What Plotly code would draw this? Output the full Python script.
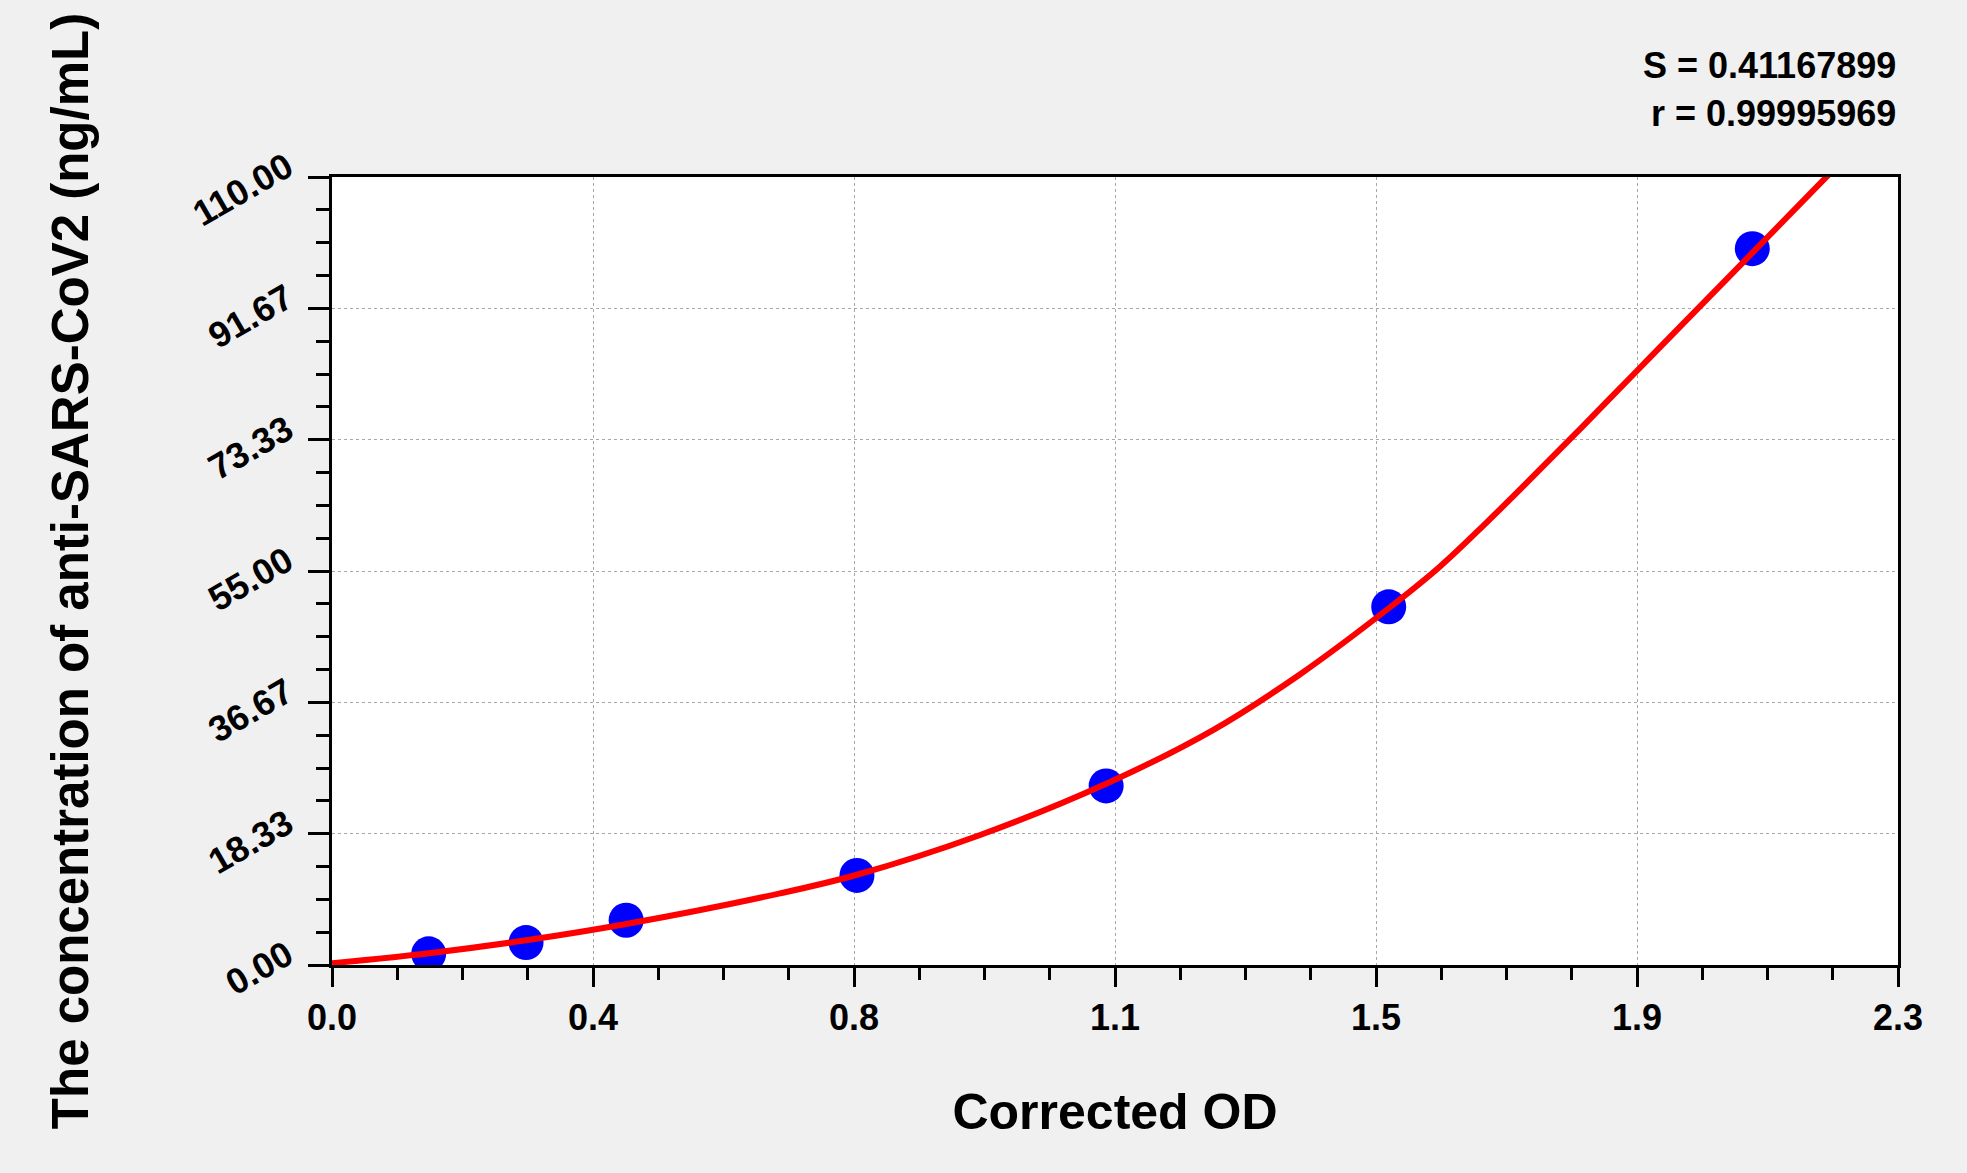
import plotly.graph_objects as go

# standard points (Corrected OD vs concentration)
od_values = [0.142, 0.285, 0.432, 0.771, 1.137, 1.552, 2.086]
conc_values = [1.5625, 3.125, 6.25, 12.5, 25.0, 50.0, 100.0]

# fitted curve
curve_od = [0.0, 0.1425, 0.285, 0.432, 0.658, 0.771, 0.952, 1.137, 1.294,
            1.422, 1.552, 1.627, 1.696, 1.764, 1.837, 1.911, 1.984, 2.086, 2.203]
curve_conc = [0.25, 1.65, 3.45, 5.72, 10.0, 12.6, 18.15, 25.3, 32.8,
              40.6, 49.8, 55.6, 61.8, 68.2, 75.2, 82.4, 89.5, 99.4, 110.8]

x_tickvals = [0.0, 0.38333, 0.76667, 1.15, 1.53333, 1.91667, 2.3]
x_ticktext = ['0.0', '0.4', '0.8', '1.1', '1.5', '1.9', '2.3']
y_tickvals = [0.0, 18.333, 36.667, 55.0, 73.333, 91.667, 110.0]
y_ticktext = ['0.00', '18.33', '36.67', '55.00', '73.33', '91.67', '110.00']

fit_s = 'S = 0.41167899'
fit_r = 'r = 0.99995969'

FONT = 'Liberation Sans, Arial, sans-serif'

fig = go.Figure()

fig.add_trace(go.Scatter(
    x=od_values, y=conc_values,
    mode='markers',
    marker=dict(color='#0000ff', size=35, line=dict(width=0)),
    showlegend=False,
))

fig.add_trace(go.Scatter(
    x=curve_od, y=curve_conc,
    mode='lines',
    line=dict(color='#ff0000', width=6, shape='spline', smoothing=1.0),
    showlegend=False,
))

axis_common = dict(
    showline=True, mirror=True, linecolor='black', linewidth=3,
    ticks='outside', tickcolor='black', tickwidth=3,
    showgrid=True, gridcolor='#a8a8a8', gridwidth=1, griddash='dot',
    zeroline=False,
    tickmode='array',
)

fig.update_xaxes(
    **axis_common,
    range=[0, 2.3],
    tickvals=x_tickvals, ticktext=x_ticktext,
    ticklen=19,
    tickfont=dict(family=FONT, size=36, color='black', weight='bold'),
    minor=dict(tickmode='linear', tick0=0, dtick=2.3 / 24, ticks='outside',
               ticklen=12, tickwidth=3, tickcolor='black', showgrid=False),
    title=dict(text='Corrected OD', standoff=57,
               font=dict(family=FONT, size=50, color='black', weight='bold')),
)

fig.update_yaxes(
    **axis_common,
    range=[0, 110],
    tickvals=y_tickvals, ticktext=y_ticktext,
    ticklen=21, tickangle=-30,
    ticklabelstandoff=14, ticklabelshift=-14,
    tickfont=dict(family=FONT, size=36, color='black', weight='bold'),
    minor=dict(tickmode='linear', tick0=0, dtick=110 / 24, ticks='outside',
               ticklen=13, tickwidth=3, tickcolor='black', showgrid=False),
    title=dict(text='The concentration of anti-SARS-CoV2 (ng/mL)', standoff=81,
               font=dict(family=FONT, size=51, color='black', weight='bold')),
)

fig.add_annotation(text=fit_s, xref='paper', yref='paper', x=1.0, y=1.142,
                   xanchor='right', yanchor='middle', showarrow=False,
                   font=dict(family=FONT, size=36, color='black', weight='bold'))
fig.add_annotation(text=fit_r, xref='paper', yref='paper', x=1.0, y=1.080,
                   xanchor='right', yanchor='middle', showarrow=False,
                   font=dict(family=FONT, size=36, color='black', weight='bold'))

fig.update_layout(
    width=1967, height=1173, autosize=False,
    margin=dict(l=332, r=69, t=177, b=208),
    paper_bgcolor='#f0f0f0',
    plot_bgcolor='white',
    showlegend=False,
)

fig.write_html("out.html", config={'displayModeBar': False},
               post_script="document.body.style.margin='0';document.body.style.overflow='hidden';")
